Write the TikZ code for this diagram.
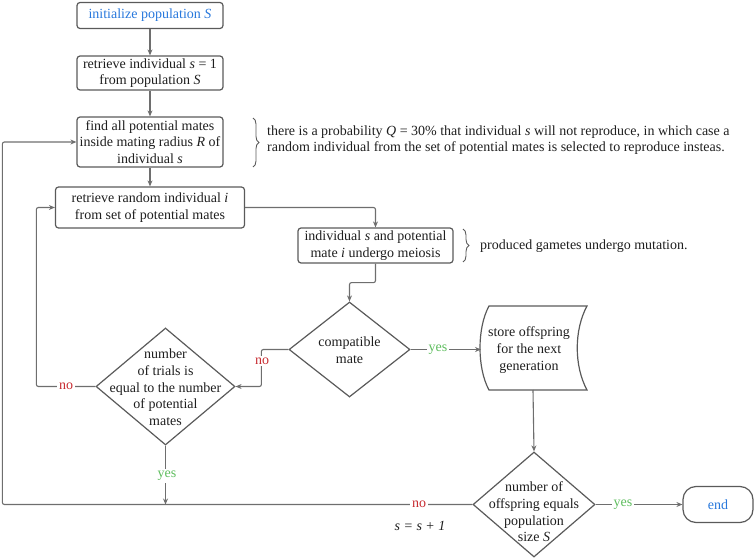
\documentclass[tikz,border=0pt]{standalone}
\usepackage{fontspec}
\setmainfont{Liberation Serif}
\usetikzlibrary{shapes.geometric,arrows.meta,decorations.pathreplacing}
\newcommand\myit[1]{\textit{#1}}
\definecolor{lineg}{RGB}{110,110,110}
\definecolor{boxg}{RGB}{90,90,90}
\definecolor{txtc}{RGB}{30,30,30}
\definecolor{myblue}{RGB}{40,120,220}
\definecolor{mygreen}{RGB}{95,190,95}
\definecolor{myred}{RGB}{200,45,50}
\begin{document}
\begin{tikzpicture}[x=1pt,y=-1pt,font=\fontsize{14}{16.7}\selectfont,text=txtc,
 proc/.style={draw=boxg,line width=1.2pt,rounded corners=3pt,align=center,inner sep=0pt},
 dia/.style={draw=boxg,line width=1.2pt,diamond,inner sep=0pt},
 txt/.style={align=center,inner sep=0pt},
 conn/.style={draw=lineg,line width=1.1pt,rounded corners=2pt,-{Stealth[length=6pt,width=5pt]}},
 lab/.style={fill=white,inner sep=2pt},
 brc/.style={draw=boxg,line width=0.9pt,decorate,decoration={brace,amplitude=6pt}}]
\useasboundingbox (0,0) rectangle (756,559);
% boxes
\node[proc,minimum width=146pt,minimum height=26pt,text=myblue] (init) at (150,15.5) {initialize population \myit{S}};
\node[proc,minimum width=146pt,minimum height=34pt] (ret1) at (150,73) {retrieve individual \myit{s} = 1\\from population \myit{S}};
\node[proc,minimum width=146pt,minimum height=50pt] (find) at (150,142) {find all potential mates\\inside mating radius \myit{R} of\\individual \myit{s}};
\node[proc,minimum width=189pt,minimum height=41pt] (retr) at (150,207.5) {retrieve random individual \myit{i}\\from set of potential mates};
\node[proc,minimum width=155pt,minimum height=35pt] (meio) at (375.5,245.5) {individual \myit{s} and potential\\mate \myit{i} undergo meiosis};
% notes
\draw[brc] (253,118) -- (253,167);
\node[txt,anchor=west,align=left] (note1) at (267,140) {there is a probability \myit{Q} = 30\% that individual \myit{s} will not reproduce, in which case a\\random individual from the set of potential mates is selected to reproduce insteas.};
\draw[brc] (463,229) -- (463,262);
\node[txt,anchor=west] (note2) at (480,246) {produced gametes undergo mutation.};
% diamonds
\node[dia,minimum width=121pt,minimum height=95pt] (comp) at (349.5,349.5) {};
\node[txt] (compt) at (349.5,350.5) {compatible\\mate};
\node[dia,minimum width=139pt,minimum height=117pt] (trials) at (165.5,386.5) {};
\node[txt] (trialst) at (165.5,387.5) {number\\of trials is\\equal to the number\\of potential\\mates};
\node[dia,minimum width=122pt,minimum height=105pt] (offs) at (534,504.5) {};
\node[txt] (offst) at (534,512) {number of\\offspring equals\\population\\size \myit{S}};
% store
\draw[draw=boxg,line width=1.2pt] (489,306) -- (587,306) .. controls (574,330) and (574,366) .. (587,390) -- (489,390) .. controls (477,368) and (477,328) .. (489,306) -- cycle;
\coordinate (storeW) at (481,349.5);
\coordinate (storeS) at (533,390);
\node[txt] (storet) at (529,350) {store offspring\\for the next\\generation};
% end
\node[proc,rounded corners=13pt,minimum width=70pt,minimum height=36pt,text=myblue] (end) at (718,504.5) {end};
% connectors
\draw[conn] (init) -- (ret1);
\draw[conn] (ret1) -- (find);
\draw[conn] (find) -- (retr);
\draw[conn] (retr.east) -| (meio.north);
\draw[conn] (meio.south) -- ++(0,19) -| (comp.north);
\draw[conn] (comp.west) -- ++(-27,0) |- (trials.east);
\draw[conn] (trials.west) -- ++(-59,0) |- (retr.west);
\draw[conn] (trials.south) -- (trials.south |- offs.west);
\draw[conn] (offs.west) -- ++(-470,0) |- (find.west);
\draw[conn] (comp.east) -- (storeW);
\draw[conn] (storeS) -- (offs.north);
\draw[conn] (offs.east) -- (end.west);
% labels
\node[lab,text=myred] (no1) at (262,361) {no};
\node[lab,text=myred] (no2) at (66,386.5) {no};
\node[lab,text=myred] (no3) at (419,504.5) {no};
\node[lab,text=mygreen] (yes1) at (167,476) {yes};
\node[lab,text=mygreen] (yes2) at (438,349.5) {yes};
\node[lab,text=mygreen] (yes3) at (623,504.5) {yes};
\node[txt] (incr) at (420,526) {\myit{s = s + 1}};
\end{tikzpicture}
\end{document}
